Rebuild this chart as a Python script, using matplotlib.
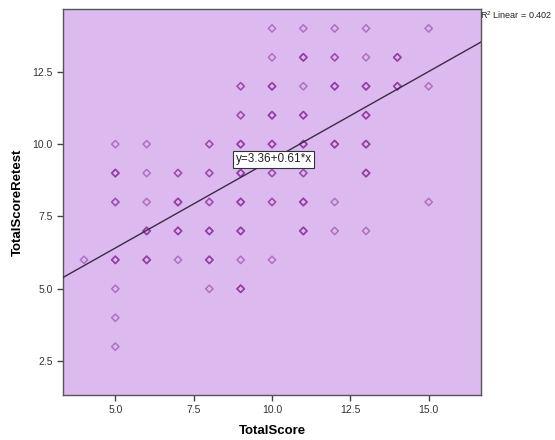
import matplotlib
matplotlib.use('Agg')
import matplotlib.pyplot as plt

plt.rcParams['font.family'] = ['Liberation Sans', 'DejaVu Sans']

# TotalScore (x) -> list of TotalScoreRetest values, with counts (overlap shade)
x_vals = [4, 5, 5, 5, 5, 5, 5, 5,
          6, 6, 6, 6, 6,
          7, 7, 7, 7,
          8, 8, 8, 8, 8, 8,
          9, 9, 9, 9, 9, 9, 9, 9,
          10, 10, 10, 10, 10, 10, 10, 10,
          11, 11, 11, 11, 11, 11, 11, 11,
          12, 12, 12, 12, 12, 12,
          13, 13, 13, 13, 13, 13, 13,
          14, 14,
          15, 15, 15]
y_vals = [6, 3, 4, 5, 6, 8, 9, 10,
          6, 7, 8, 9, 10,
          6, 7, 8, 9,
          5, 6, 7, 8, 9, 10,
          5, 6, 7, 8, 9, 10, 11, 12,
          6, 8, 9, 10, 11, 12, 13, 14,
          7, 8, 9, 10, 11, 12, 13, 14,
          7, 8, 10, 12, 13, 14,
          7, 9, 10, 11, 12, 13, 14,
          12, 13,
          8, 12, 14]
counts = [1, 1, 1, 1, 3, 2, 3, 1,
          3, 3, 1, 1, 1,
          1, 3, 3, 2,
          1, 3, 3, 2, 2, 2,
          3, 1, 3, 3, 3, 3, 2, 2,
          1, 2, 2, 3, 3, 3, 1, 1,
          3, 3, 2, 3, 3, 1, 3, 1,
          1, 1, 3, 3, 2, 1,
          1, 3, 3, 3, 3, 1, 1,
          3, 3,
          1, 1, 1]

intercept = 3.36
slope = 0.61
r2 = 0.402

fig = plt.figure(figsize=(5.55, 4.40), dpi=100)
ax = fig.add_axes([0.1135, 0.1023, 0.7532, 0.8772])
ax.set_facecolor('#dcbaf0')

xs, ys = [], []
for x, y, c in zip(x_vals, y_vals, counts):
    xs += [x] * c
    ys += [y] * c
ax.scatter(xs, ys, marker='D', s=14, facecolors='none',
           edgecolors=(0.55, 0.2, 0.6, 0.55), linewidths=1.1, zorder=3)

xlim = (3.33, 16.67)
ax.plot(xlim, [intercept + slope * v for v in xlim], color='#3b2a45', lw=1.0, zorder=4)
ax.set_xlim(xlim)
ax.set_ylim(1.33, 14.67)

ax.text(8.84, 9.48, 'y=%.2f+%.2f*x' % (intercept, slope), fontsize=8.5, va='center', ha='left',
        color='#222222', zorder=5,
        bbox=dict(boxstyle='square,pad=0.2', fc='white', ec='#333333', lw=0.8))
fig.text(0.8655, 0.965, '$\\mathregular{R^2}$ Linear = %.3f' % r2, fontsize=6.5, ha='left', va='center',
         color='#222222')

ax.set_xticks([5.0, 7.5, 10.0, 12.5, 15.0])
ax.set_yticks([2.5, 5.0, 7.5, 10.0, 12.5])
ax.set_xticklabels(['5.0', '7.5', '10.0', '12.5', '15.0'])
ax.set_yticklabels(['2.5', '5.0', '7.5', '10.0', '12.5'])
ax.tick_params(direction='out', length=4, width=1, colors='#444444', labelsize=7.5, labelcolor='#333333')
for s in ax.spines.values():
    s.set_color('#555555')
    s.set_linewidth(1)

ax.set_xlabel('TotalScore', fontsize=9.5, fontweight='bold', labelpad=7)
ax.set_ylabel('TotalScoreRetest', fontsize=9.5, fontweight='bold', labelpad=6)

fig.savefig('out.png', dpi=100)
